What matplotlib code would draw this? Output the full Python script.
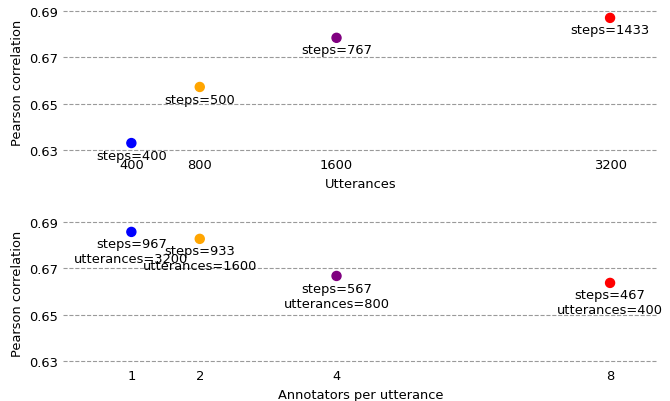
import matplotlib.pyplot as plt

plt.rcParams['font.size'] = 9.4

# data
positions = [1, 2, 4, 8]
colors = ['blue', 'orange', 'purple', 'red']

utterance_labels = ['400', '800', '1600', '3200']
utt_corr = [0.633, 0.6572, 0.6784, 0.687]
utt_steps = [400, 500, 767, 1433]

annot_labels = ['1', '2', '4', '8']
ann_corr = [0.6857, 0.6827, 0.6667, 0.6637]
ann_steps = [967, 933, 567, 467]
ann_utts = [3200, 1600, 800, 400]

yticks = [0.63, 0.65, 0.67, 0.69]

fig = plt.figure(figsize=(6.7, 4.02), dpi=100)
ax1 = fig.add_axes([0.094, 0.6157, 0.888, 0.3575])
ax2 = fig.add_axes([0.094, 0.0908, 0.888, 0.3575])


def style(ax, ticklabels, xlabel):
    ax.set_xlim(0, 8.7)
    ax.set_ylim(0.6285, 0.6905)
    ax.set_yticks(yticks)
    ax.set_yticklabels([f"{t:.2f}" for t in yticks])
    ax.set_xticks(positions)
    ax.set_xticklabels(ticklabels)
    ax.tick_params(length=0)
    for s in ax.spines.values():
        s.set_visible(False)
    ax.yaxis.grid(True, linestyle='--', color='#9a9a9a', linewidth=0.8)
    ax.set_axisbelow(True)
    ax.set_xlabel(xlabel)
    ax.set_ylabel('Pearson correlation')


# top: number of utterances
ax1.scatter(positions, utt_corr, c=colors, s=42, zorder=3)
for x, y, st in zip(positions, utt_corr, utt_steps):
    ax1.annotate(f"steps={st}", (x, y), xytext=(0, -4), textcoords='offset points',
                 ha='center', va='top')
style(ax1, utterance_labels, 'Utterances')

# bottom: annotators per utterance
ax2.scatter(positions, ann_corr, c=colors, s=42, zorder=3)
for x, y, st, u in zip(positions, ann_corr, ann_steps, ann_utts):
    ax2.annotate(f"steps={st}\nutterances={u}", (x, y), xytext=(0, -4),
                 textcoords='offset points', ha='center', va='top',
                 multialignment='center')
style(ax2, annot_labels, 'Annotators per utterance')

plt.savefig('out.png', dpi=100)
